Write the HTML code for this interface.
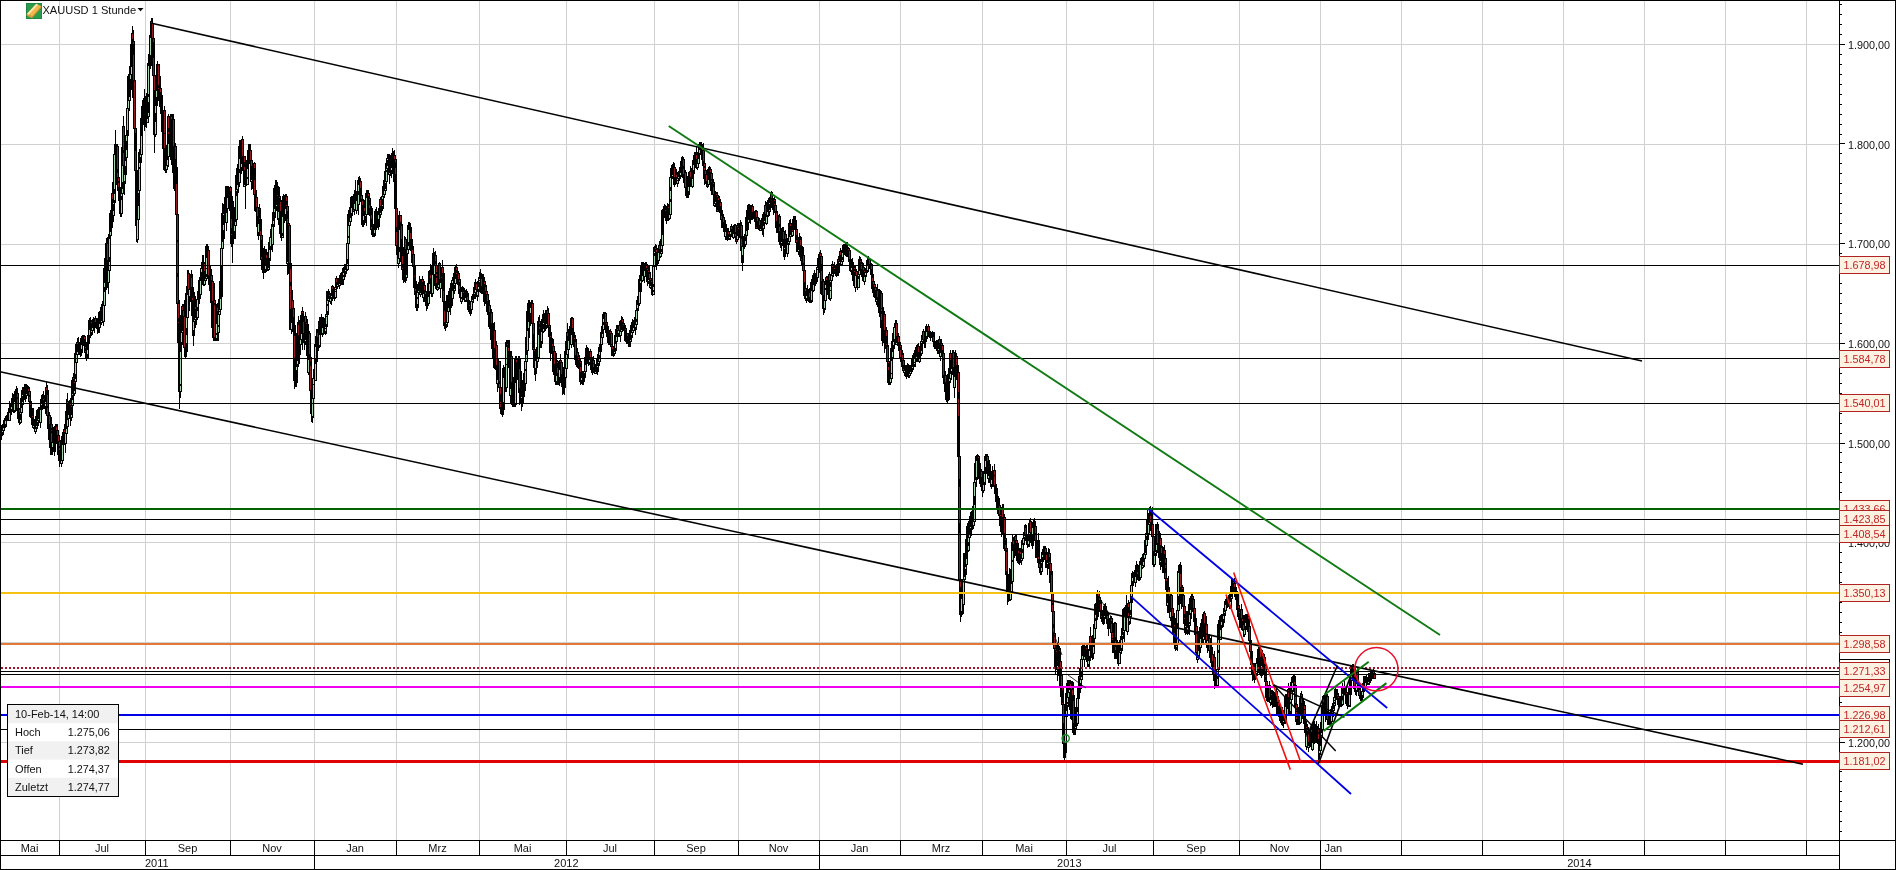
<!DOCTYPE html>
<html><head><meta charset="utf-8"><title>XAUUSD 1 Stunde</title>
<style>
html,body{margin:0;padding:0;background:#fff;overflow:hidden}
body{width:1896px;height:870px;font-family:"Liberation Sans",sans-serif}
svg{display:block;will-change:transform;opacity:0.999}
</style></head><body>
<svg width="1896" height="870" viewBox="0 0 1896 870">
<rect width="1896" height="870" fill="#fff"/>
<path d="M59.5 1V840M145.5 1V840M230.5 1V840M314.5 1V840M396.5 1V840M479.5 1V840M566.5 1V840M654.5 1V840M738.5 1V840M819.5 1V840M900.5 1V840M982.5 1V840M1066.5 1V840M1153.5 1V840M1239.5 1V840M1320.5 1V840M1401.5 1V840M1482.5 1V840M1563.5 1V840M1644.5 1V840M1725.5 1V840M1806.5 1V840M1 44.5H1839M1 144.5H1839M1 244.5H1839M1 343.5H1839M1 443.5H1839M1 542.5H1839M1 642.5H1839M1 742.5H1839" stroke="#d0d0d0" stroke-width="1" fill="none" shape-rendering="crispEdges"/>
<path d="M0.5 430V432M0.5 436V437M0.5 439V442M1.5 425V440M2.5 424V431M2.5 432V436M3.5 420V428M3.5 430V435M4.5 418V431M5.5 416V421M5.5 424V428M6.5 415V427M7.5 412V421M8.5 408V421M9.5 401V413M9.5 420V421M10.5 404V421M11.5 398V407M11.5 409V415M12.5 393V412M13.5 394V413M14.5 391V402M14.5 410V413M15.5 389V412M16.5 386V411M17.5 388V394M17.5 397V399M17.5 408V419M18.5 393V423M19.5 408V410M19.5 412V425M20.5 398V413M20.5 414V420M20.5 422V424M21.5 390V408M21.5 412V423M22.5 387V395M22.5 396V402M22.5 404V413M23.5 387V405M24.5 384V400M25.5 384V402M26.5 384V394M26.5 395V399M27.5 385V396M28.5 386V389M28.5 391V402M29.5 387V392M29.5 395V397M29.5 401V417M30.5 391V404M30.5 405V418M31.5 401V425M32.5 408V416M32.5 417V428M33.5 408V426M33.5 427V429M34.5 419V432M35.5 416V429M35.5 431V434M36.5 410V426M36.5 427V432M37.5 409V421M37.5 422V429M38.5 407V419M38.5 420V426M39.5 407V423M40.5 399V410M40.5 422V428M41.5 395V403M41.5 405V423M42.5 394V410M43.5 391V399M43.5 400V409M44.5 395V409M45.5 387V402M45.5 406V414M46.5 382V388M46.5 390V416M47.5 385V395M47.5 406V408M47.5 415V429M48.5 390V440M49.5 412V416M49.5 424V448M50.5 415V455M51.5 417V425M51.5 428V430M51.5 431V433M51.5 442V455M52.5 424V443M52.5 447V455M53.5 427V452M54.5 426V456M55.5 424V452M56.5 424V427M56.5 430V444M57.5 424V431M57.5 435V455M58.5 430V436M58.5 441V461M59.5 435V442M59.5 446V448M59.5 450V467M60.5 440V464M61.5 436V461M61.5 463V467M62.5 432V445M62.5 460V464M63.5 429V461M64.5 424V430M64.5 432V445M65.5 411V434M65.5 443V453M66.5 399V429M66.5 433V444M67.5 393V402M67.5 404V420M67.5 426V434M68.5 401V415M68.5 418V427M69.5 400V419M70.5 398V403M70.5 405V426M71.5 380V406M71.5 407V415M71.5 417V421M72.5 377V394M72.5 395V400M72.5 405V418M73.5 373V378M73.5 379V406M74.5 353V382M74.5 383V391M74.5 393V396M75.5 344V363M75.5 374V379M75.5 381V394M76.5 342V355M76.5 362V382M77.5 338V343M77.5 344V352M77.5 354V363M78.5 337V355M79.5 342V355M80.5 338V357M81.5 336V345M81.5 349V356M82.5 335V353M83.5 335V346M84.5 335V337M84.5 339V353M85.5 336V347M85.5 348V351M85.5 352V358M86.5 342V361M87.5 335V350M87.5 354V359M88.5 320V358M89.5 318V330M89.5 335V344M90.5 317V338M91.5 320V322M91.5 323V331M91.5 332V336M92.5 319V328M92.5 330V335M93.5 317V331M94.5 318V333M95.5 316V319M95.5 322V328M96.5 318V329M97.5 318V334M98.5 312V333M99.5 311V324M99.5 327V333M100.5 307V328M101.5 304V321M101.5 322V325M102.5 301V323M103.5 268V306M103.5 321V326M104.5 258V283M104.5 287V292M104.5 305V322M105.5 243V306M106.5 238V290M107.5 237V244M107.5 260V288M108.5 234V271M108.5 282V294M109.5 213V239M109.5 257V262M109.5 270V283M110.5 210V232M110.5 235V271M111.5 193V236M112.5 182V194M112.5 199V228M113.5 154V203M113.5 204V211M113.5 215V222M114.5 144V155M114.5 189V194M114.5 200V216M115.5 130V203M116.5 144V185M117.5 144V147M117.5 169V173M117.5 177V191M118.5 146V178M118.5 181V183M118.5 187V201M119.5 177V214M120.5 187V217M121.5 147V194M121.5 196V200M121.5 213V217M122.5 126V166M122.5 182V189M122.5 193V214M123.5 116V127M123.5 150V153M123.5 165V194M124.5 126V175M124.5 181V195M125.5 135V161M125.5 166V184M126.5 108V136M126.5 141V150M126.5 157V175M127.5 76V109M127.5 130V158M128.5 74V101M128.5 108V136M129.5 66V97M129.5 100V111M130.5 44V75M130.5 79V101M131.5 33V67M131.5 74V90M132.5 26V34M132.5 39V98M133.5 30V42M133.5 44V55M133.5 80V129M134.5 41V81M134.5 128V171M135.5 80V129M135.5 133V151M135.5 170V226M136.5 128V242M137.5 170V220M137.5 239V243M138.5 152V191M138.5 193V206M138.5 219V240M139.5 149V163M139.5 167V169M139.5 190V220M140.5 118V155M140.5 157V191M141.5 106V136M141.5 154V163M142.5 100V155M143.5 98V125M144.5 89V131M145.5 96V127M146.5 93V128M147.5 63V119M147.5 122V123M148.5 54V66M148.5 94V97M148.5 102V113M148.5 116V123M149.5 35V117M150.5 21V38M150.5 55V69M151.5 18V22M151.5 23V66M152.5 18V24M152.5 38V76M153.5 23V39M153.5 42V58M153.5 75V135M154.5 38V76M154.5 90V153M155.5 75V106M155.5 113V122M155.5 134V137M156.5 64V91M156.5 97V135M157.5 61V106M158.5 64V65M158.5 85V88M158.5 89V101M159.5 64V107M160.5 76V89M160.5 92V114M161.5 88V132M162.5 95V149M163.5 110V170M164.5 106V111M164.5 133V134M164.5 148V171M165.5 110V173M166.5 145V166M166.5 169V173M167.5 116V160M167.5 165V170M168.5 114V117M168.5 128V132M168.5 134V144M168.5 156V167M169.5 116V157M170.5 114V160M171.5 114V117M171.5 119V165M172.5 114V173M173.5 114V120M173.5 146V189M174.5 119V191M175.5 143V147M175.5 159V215M176.5 146V184M176.5 214V304M177.5 167V215M177.5 240V242M177.5 273V277M177.5 303V343M178.5 214V304M178.5 318V322M178.5 323V392M179.5 300V409M180.5 315V352M180.5 384V386M180.5 391V398M181.5 306V333M181.5 342V392M182.5 304V307M182.5 310V331M182.5 332V345M183.5 304V311M183.5 316V348M184.5 300V317M184.5 347V357M185.5 293V359M186.5 286V318M186.5 328V335M186.5 343V357M187.5 270V295M187.5 317V352M188.5 270V274M188.5 289V318M189.5 273V290M189.5 296V311M190.5 274V302M191.5 270V278M191.5 287V316M192.5 274V298M192.5 300V336M193.5 287V322M193.5 330V346M194.5 292V320M194.5 321V336M195.5 296V307M195.5 309V318M195.5 319V328M196.5 299V325M197.5 291V300M197.5 307V311M197.5 317V320M198.5 280V318M199.5 277V304M200.5 268V281M200.5 294V299M201.5 262V269M201.5 272V295M202.5 255V285M203.5 255V286M204.5 262V264M204.5 271V281M204.5 284V286M205.5 246V279M205.5 280V285M206.5 244V258M206.5 268V269M206.5 274V277M206.5 278V281M207.5 244V279M208.5 246V251M208.5 275V285M209.5 250V291M210.5 266V303M211.5 269V276M211.5 280V328M212.5 275V282M212.5 301V338M213.5 281V341M214.5 283V301M214.5 303V305M214.5 337V341M215.5 300V341M216.5 304V324M216.5 333V335M216.5 338V341M217.5 303V308M217.5 311V341M218.5 299V315M218.5 325V327M218.5 332V341M219.5 281V310M219.5 311V312M219.5 314V333M220.5 248V299M220.5 309V315M221.5 213V249M221.5 266V310M222.5 203V242M222.5 248V297M223.5 204V214M223.5 215V225M223.5 230V249M224.5 197V239M225.5 186V223M226.5 186V213M226.5 222V231M227.5 186V198M227.5 208V223M228.5 186V209M229.5 187V211M230.5 186V188M230.5 191V244M231.5 187V219M231.5 228V234M231.5 235V247M232.5 196V263M233.5 201V244M234.5 207V226M234.5 231V239M235.5 175V222M235.5 225V239M236.5 168V190M236.5 191V196M236.5 219V226M237.5 164V185M237.5 189V220M238.5 146V193M239.5 140V159M239.5 169V173M239.5 182V187M240.5 140V183M241.5 139V164M241.5 167V174M242.5 136V140M242.5 156V171M243.5 139V187M244.5 156V157M244.5 162V167M244.5 170V185M244.5 186V187M245.5 156V209M246.5 160V186M247.5 150V169M247.5 177V179M247.5 184V185M248.5 144V185M249.5 144V164M250.5 144V151M250.5 160V182M251.5 150V161M251.5 166V180M251.5 181V190M252.5 160V189M253.5 163V195M254.5 162V164M254.5 168V180M254.5 194V211M255.5 163V212M256.5 190V198M256.5 207V227M257.5 197V208M257.5 216V236M258.5 207V224M258.5 232V240M259.5 204V209M259.5 210V218M259.5 219V236M260.5 208V231M260.5 235V260M261.5 219V236M261.5 240V257M261.5 259V270M262.5 235V273M263.5 248V279M264.5 246V273M265.5 249V266M265.5 269V273M266.5 249V255M266.5 258V272M267.5 252V271M268.5 242V268M268.5 269V271M269.5 237V250M269.5 258V270M270.5 229V238M270.5 246V261M271.5 224V250M272.5 212V227M272.5 244V252M273.5 188V221M273.5 224V245M274.5 185V209M274.5 212V227M275.5 180V218M276.5 180V205M276.5 206V211M277.5 182V195M277.5 196V220M278.5 186V212M278.5 218V225M279.5 187V197M279.5 198V234M280.5 196V202M280.5 211V238M281.5 200V241M282.5 196V217M282.5 233V236M282.5 237V238M283.5 194V238M284.5 195V223M285.5 194V209M285.5 214V221M286.5 194V197M286.5 201V205M286.5 206V264M287.5 196V207M287.5 211V219M287.5 223V262M287.5 263V275M288.5 206V224M288.5 225V274M289.5 223V226M289.5 263V330M290.5 225V269M290.5 282V286M290.5 309V330M291.5 263V323M291.5 329V334M292.5 290V301M292.5 308V332M293.5 300V309M293.5 317V381M294.5 308V336M294.5 358V389M295.5 325V387M296.5 333V367M296.5 370V387M297.5 322V361M297.5 364V383M298.5 316V325M298.5 335V367M299.5 320V364M300.5 315V340M300.5 344V355M301.5 311V334M301.5 339V345M302.5 307V312M302.5 313V350M303.5 311V322M303.5 333V343M304.5 316V350M305.5 312V317M305.5 322V340M305.5 341V345M306.5 316V323M306.5 324V356M307.5 319V373M308.5 324V360M308.5 372V375M309.5 331V334M309.5 354V391M310.5 333V358M310.5 361V366M310.5 390V414M311.5 357V422M312.5 378V399M312.5 416V423M313.5 369V379M313.5 384V385M313.5 398V418M314.5 344V399M315.5 336V347M315.5 359V364M315.5 380V381M316.5 329V381M317.5 329V333M317.5 337V362M318.5 321V351M319.5 317V335M319.5 345V348M320.5 317V347M321.5 314V335M322.5 317V328M322.5 333V337M323.5 317V335M324.5 318V334M325.5 314V327M325.5 328V329M325.5 331V335M326.5 291V315M326.5 316V317M326.5 324V334M327.5 291V301M327.5 304V306M327.5 311V327M328.5 289V299M328.5 300V315M329.5 291V295M329.5 296V302M330.5 293V299M330.5 301V304M331.5 286V296M331.5 297V305M332.5 285V287M332.5 289V301M333.5 286V299M334.5 287V301M335.5 278V288M335.5 289V290M335.5 291V292M335.5 297V299M336.5 276V279M336.5 282V298M337.5 278V285M337.5 286V289M338.5 278V287M339.5 275V284M339.5 285V289M340.5 273V286M341.5 272V285M342.5 268V285M343.5 267V273M343.5 275V277M343.5 279V285M344.5 264V280M345.5 264V270M345.5 271V277M346.5 243V274M347.5 214V244M347.5 259V264M347.5 269V271M348.5 210V226M348.5 236V238M348.5 243V270M349.5 207V222M349.5 225V244M350.5 197V218M350.5 221V226M351.5 196V208M351.5 213V222M352.5 196V216M353.5 194V210M353.5 211V212M354.5 190V204M354.5 209V215M355.5 180V211M356.5 191V201M356.5 210V214M357.5 180V211M358.5 177V185M358.5 191V195M358.5 204V215M359.5 176V205M360.5 178V182M360.5 188V202M361.5 181V196M361.5 199V225M362.5 195V201M362.5 205V227M363.5 199V216M363.5 220V227M364.5 200V208M364.5 211V225M365.5 193V215M365.5 216V223M366.5 190V198M366.5 214V226M367.5 190V215M368.5 190V194M368.5 196V215M369.5 193V199M369.5 200V205M369.5 208V216M370.5 198V230M371.5 206V215M371.5 219V227M371.5 229V235M372.5 208V237M373.5 224V237M374.5 211V230M374.5 233V237M375.5 209V236M376.5 207V230M377.5 211V228M378.5 208V215M378.5 219V230M379.5 199V227M380.5 197V200M380.5 206V213M380.5 214V218M381.5 196V215M382.5 186V197M382.5 199V205M382.5 206V211M383.5 180V195M383.5 196V209M384.5 171V191M384.5 194V198M385.5 163V182M385.5 183V189M385.5 190V195M386.5 158V169M386.5 170V172M386.5 181V191M387.5 154V159M387.5 160V166M387.5 168V182M388.5 154V175M389.5 154V173M389.5 174V184M390.5 155V176M391.5 153V168M391.5 170V178M392.5 148V174M393.5 151V182M394.5 150V156M394.5 159V209M395.5 155V160M395.5 162V168M395.5 174V246M396.5 159V209M396.5 227V232M396.5 245V255M397.5 208V264M398.5 215V259M398.5 263V268M399.5 211V230M399.5 247V252M399.5 258V264M400.5 215V216M400.5 222V262M401.5 215V226M401.5 239V270M402.5 224V256M402.5 264V268M402.5 269V280M403.5 247V283M404.5 236V282M405.5 237V240M405.5 249V283M406.5 239V275M406.5 277V281M407.5 225V250M407.5 253V278M408.5 222V230M408.5 242V246M408.5 249V254M409.5 222V250M410.5 223V233M410.5 239V251M411.5 227V263M412.5 239V250M412.5 254V267M413.5 246V255M413.5 266V288M414.5 254V276M414.5 277V295M415.5 266V289M415.5 291V308M416.5 281V311M417.5 284V293M417.5 297V299M417.5 304V311M418.5 282V291M418.5 292V308M419.5 276V295M420.5 279V293M420.5 294V297M421.5 279V295M422.5 276V280M422.5 282V298M423.5 279V294M423.5 297V302M424.5 281V286M424.5 290V302M425.5 285V292M425.5 294V306M426.5 291V311M427.5 283V309M428.5 271V297M428.5 303V306M429.5 270V284M429.5 291V304M430.5 264V275M430.5 278V294M431.5 265V297M432.5 253V275M432.5 293V297M433.5 248V294M434.5 252V266M434.5 274V286M435.5 251V256M435.5 261V264M435.5 265V289M436.5 255V266M436.5 272V274M436.5 276V278M436.5 283V290M437.5 265V288M437.5 289V291M438.5 263V285M438.5 287V290M439.5 262V264M439.5 279V289M440.5 263V283M440.5 288V298M441.5 267V277M441.5 278V289M442.5 260V268M442.5 273V302M443.5 267V291M443.5 301V326M444.5 273V311M444.5 322V329M445.5 301V331M446.5 295V323M446.5 324V328M447.5 295V312M447.5 322V327M448.5 291V308M448.5 311V323M449.5 288V312M450.5 283V315M451.5 280V308M452.5 277V281M452.5 283V291M452.5 298V306M453.5 273V299M454.5 267V284M454.5 285V289M454.5 290V294M455.5 265V279M455.5 283V291M456.5 264V268M456.5 270V273M456.5 274V284M457.5 267V285M458.5 271V274M458.5 279V294M459.5 273V280M459.5 282V286M459.5 289V298M460.5 279V302M461.5 287V292M461.5 297V299M461.5 301V304M462.5 286V302M463.5 287V292M463.5 293V300M464.5 288V302M465.5 290V298M465.5 300V302M466.5 289V302M467.5 291V297M467.5 300V310M468.5 293V312M469.5 300V305M469.5 306V314M470.5 301V316M471.5 296V302M471.5 309V314M472.5 294V300M472.5 301V310M473.5 287V303M474.5 282V293M474.5 294V299M475.5 279V290M475.5 292V299M476.5 282V284M476.5 289V297M477.5 281V292M477.5 295V301M478.5 277V287M478.5 289V297M479.5 272V279M479.5 280V281M479.5 282V292M480.5 269V293M481.5 273V279M481.5 286V294M482.5 274V294M483.5 274V302M484.5 277V282M484.5 284V306M485.5 281V287M485.5 291V304M486.5 285V292M486.5 294V312M487.5 291V295M487.5 301V315M488.5 294V327M489.5 300V306M489.5 312V329M490.5 305V340M491.5 309V313M491.5 323V349M492.5 312V359M493.5 323V368M494.5 322V331M494.5 348V369M495.5 330V370M496.5 341V346M496.5 365V384M497.5 345V380M497.5 383V392M498.5 358V388M499.5 361V362M499.5 381V384M499.5 387V409M500.5 361V388M500.5 394V402M500.5 407V414M501.5 387V415M502.5 368V417M503.5 365V378M503.5 402V415M504.5 367V410M505.5 342V392M506.5 340V347M506.5 364V365M506.5 387V392M507.5 340V344M507.5 345V388M508.5 340V348M508.5 351V368M509.5 340V396M510.5 351V389M510.5 395V403M511.5 351V357M511.5 382V405M512.5 356V407M513.5 377V407M514.5 359V407M515.5 356V383M515.5 404V407M516.5 356V360M516.5 362V405M517.5 358V380M518.5 356V393M519.5 356V369M519.5 388V405M520.5 359V404M521.5 371V397M521.5 398V411M522.5 380V407M523.5 373V403M524.5 361V397M525.5 337V362M525.5 369V371M525.5 383V391M526.5 311V355M526.5 361V384M527.5 303V331M527.5 350V362M528.5 300V322M528.5 328V351M529.5 300V338M530.5 302V308M530.5 313V326M531.5 300V324M532.5 300V304M532.5 323V350M533.5 303V324M533.5 334V348M533.5 349V368M534.5 323V350M534.5 351V375M535.5 349V361M535.5 368V381M536.5 347V374M537.5 321V358M537.5 361V368M538.5 317V335M538.5 357V362M539.5 315V322M539.5 324V327M539.5 329V358M540.5 321V348M541.5 319V332M541.5 341V348M542.5 314V344M543.5 310V323M543.5 324V329M543.5 331V333M544.5 313V332M545.5 310V331M546.5 310V324M546.5 325V329M547.5 306V311M547.5 313V328M548.5 308V314M548.5 325V337M549.5 313V326M549.5 327V353M550.5 325V336M550.5 337V361M551.5 332V354M552.5 338V344M552.5 346V372M553.5 339V347M553.5 351V375M554.5 346V352M554.5 364V382M555.5 351V385M556.5 353V376M556.5 381V385M557.5 360V362M557.5 363V368M557.5 373V385M558.5 361V385M559.5 360V370M559.5 377V386M560.5 354V361M560.5 362V383M561.5 360V363M561.5 374V387M562.5 362V395M563.5 367V394M564.5 351V395M565.5 341V369M565.5 377V388M566.5 332V355M566.5 368V378M567.5 323V333M567.5 336V350M567.5 354V369M568.5 329V341M568.5 349V359M569.5 326V350M570.5 318V345M571.5 317V335M571.5 344V348M572.5 317V319M572.5 328V345M573.5 318V347M574.5 332V338M574.5 339V360M575.5 335V342M575.5 355V365M576.5 339V367M577.5 348V353M577.5 356V368M578.5 352V357M578.5 360V369M579.5 355V382M580.5 358V362M580.5 363V367M580.5 372V385M581.5 361V378M581.5 380V384M582.5 371V385M583.5 371V385M584.5 357V372M584.5 373V382M585.5 348V358M585.5 359V365M585.5 371V378M586.5 345V372M587.5 347V364M588.5 348V366M589.5 351V360M589.5 362V365M590.5 349V352M590.5 357V370M591.5 351V373M592.5 357V375M593.5 356V361M593.5 363V364M593.5 367V373M594.5 360V374M595.5 364V372M595.5 373V374M596.5 358V374M597.5 354V366M597.5 367V375M598.5 347V362M598.5 363V372M599.5 344V352M599.5 355V358M599.5 361V366M600.5 332V362M601.5 326V338M601.5 344V352M602.5 314V334M602.5 337V345M603.5 312V319M603.5 322V325M603.5 329V338M604.5 312V330M605.5 312V314M605.5 322V333M606.5 313V323M606.5 324V337M607.5 322V343M608.5 326V345M609.5 330V345M610.5 329V332M610.5 333V347M611.5 331V334M611.5 344V345M611.5 346V356M612.5 333V347M612.5 349V356M613.5 346V357M614.5 335V352M614.5 353V356M615.5 329V344M615.5 348V354M616.5 325V337M616.5 341V351M617.5 325V329M617.5 330V342M618.5 325V331M618.5 333V337M619.5 321V326M619.5 330V337M620.5 320V332M620.5 335V342M621.5 316V330M621.5 331V336M622.5 317V320M622.5 322V332M623.5 319V324M623.5 325V331M624.5 323V341M625.5 325V329M625.5 330V342M626.5 328V344M627.5 333V334M627.5 336V344M628.5 333V347M629.5 330V347M630.5 325V340M630.5 341V347M631.5 322V333M631.5 335V342M632.5 319V331M632.5 332V338M633.5 320V328M633.5 330V333M634.5 317V331M635.5 310V325M635.5 327V335M636.5 300V311M636.5 319V322M636.5 324V330M637.5 296V305M637.5 308V325M638.5 279V311M639.5 275V292M639.5 303V306M640.5 266V281M640.5 283V304M641.5 262V292M642.5 262V276M642.5 280V282M643.5 262V281M644.5 263V271M644.5 276V283M645.5 262V277M646.5 262V265M646.5 268V282M647.5 264V269M647.5 270V286M648.5 266V271M648.5 272V280M648.5 281V284M649.5 266V274M649.5 278V288M650.5 272V279M650.5 280V286M650.5 287V289M651.5 278V281M651.5 282V295M652.5 266V296M653.5 247V267M653.5 284V287M653.5 290V292M653.5 294V295M654.5 246V252M654.5 253V256M654.5 266V295M655.5 244V248M655.5 249V267M656.5 245V250M656.5 252V270M657.5 248V266M658.5 245V253M658.5 260V264M659.5 241V246M659.5 249V261M660.5 239V254M660.5 256V258M661.5 210V246M661.5 249V252M661.5 253V257M662.5 209V235M662.5 245V254M663.5 206V246M664.5 204V218M665.5 205V210M665.5 211V221M666.5 206V224M667.5 203V221M668.5 204V207M668.5 208V221M669.5 177V215M669.5 218V220M670.5 168V178M670.5 187V191M670.5 199V202M670.5 214V219M671.5 165V215M672.5 164V175M672.5 176V179M673.5 162V185M674.5 163V168M674.5 177V187M675.5 167V185M676.5 169V175M676.5 177V184M677.5 172V179M677.5 180V181M677.5 183V187M678.5 171V177M678.5 178V184M679.5 167V181M680.5 161V173M680.5 175V179M681.5 157V177M682.5 156V178M683.5 157V160M683.5 166V169M683.5 174V183M684.5 159V188M685.5 170V173M685.5 187V196M686.5 172V198M687.5 176V198M688.5 172V187M688.5 191V198M689.5 171V195M690.5 166V172M690.5 177V187M691.5 168V187M692.5 160V179M692.5 186V188M693.5 155V165M693.5 170V187M694.5 152V174M695.5 152V168M696.5 147V155M696.5 159V169M697.5 152V164M697.5 167V170M698.5 144V159M698.5 163V168M699.5 142V150M699.5 153V164M700.5 142V155M701.5 142V160M702.5 144V149M702.5 150V166M703.5 143V151M703.5 161V179M704.5 150V164M704.5 166V168M704.5 170V185M705.5 163V171M705.5 174V184M706.5 170V175M706.5 181V187M707.5 169V185M707.5 186V188M708.5 167V180M708.5 184V187M709.5 166V185M710.5 167V170M710.5 172V191M711.5 169V174M711.5 179V181M711.5 182V195M712.5 173V195M713.5 179V183M713.5 184V187M713.5 194V206M714.5 182V204M714.5 205V207M715.5 191V202M715.5 203V207M716.5 192V194M716.5 195V212M717.5 192V196M717.5 197V210M717.5 211V212M718.5 195V198M718.5 200V212M719.5 196V213M720.5 199V203M720.5 206V220M721.5 202V216M721.5 219V228M722.5 210V228M723.5 214V218M723.5 222V232M724.5 217V237M725.5 220V232M725.5 236V240M726.5 224V240M727.5 228V241M728.5 228V232M728.5 234V240M729.5 231V237M729.5 238V240M730.5 226V232M730.5 234V240M731.5 224V227M731.5 229V237M732.5 226V238M733.5 225V234M733.5 237V239M734.5 224V238M735.5 224V226M735.5 232V234M735.5 236V242M736.5 225V240M736.5 241V244M737.5 223V226M737.5 227V236M737.5 239V242M738.5 223V228M738.5 229V240M739.5 223V238M740.5 220V251M741.5 222V226M741.5 236V239M741.5 246V263M742.5 225V247M742.5 255V271M743.5 236V263M744.5 234V249M745.5 217V236M745.5 237V241M745.5 244V247M746.5 210V231M746.5 235V245M747.5 205V236M748.5 204V220M748.5 222V230M749.5 204V223M750.5 205V224M751.5 205V220M752.5 204V207M752.5 212V220M753.5 206V219M754.5 211V222M755.5 210V229M756.5 210V212M756.5 217V227M756.5 228V229M757.5 211V218M757.5 221V229M758.5 217V230M759.5 218V221M759.5 225V231M760.5 220V229M760.5 230V231M761.5 218V231M762.5 214V235M763.5 212V226M763.5 228V237M764.5 205V221M764.5 222V229M765.5 201V206M765.5 214V224M766.5 202V217M766.5 223V225M767.5 200V212M767.5 215V224M768.5 198V217M769.5 197V203M769.5 204V210M769.5 211V216M770.5 192V212M771.5 191V193M771.5 198V208M772.5 192V210M773.5 198V215M774.5 197V200M774.5 201V204M774.5 205V213M775.5 199V206M775.5 211V228M776.5 205V213M776.5 221V233M777.5 211V233M778.5 215V242M779.5 214V217M779.5 224V227M779.5 231V245M780.5 216V248M781.5 228V242M781.5 243V251M782.5 227V246M783.5 227V232M783.5 239V257M784.5 231V248M784.5 249V260M785.5 230V235M785.5 239V257M786.5 234V254M787.5 238V245M787.5 253V257M788.5 223V242M788.5 243V254M789.5 220V237M789.5 241V245M790.5 219V224M790.5 226V235M790.5 236V242M791.5 223V237M792.5 219V230M792.5 231V232M792.5 235V237M793.5 216V236M794.5 216V230M795.5 216V243M796.5 220V230M796.5 235V240M796.5 242V252M797.5 229V252M798.5 237V250M798.5 251V255M799.5 233V257M800.5 236V240M800.5 245V261M801.5 237V259M801.5 260V266M802.5 246V271M803.5 247V256M803.5 263V266M803.5 270V296M804.5 255V271M804.5 282V299M805.5 270V289M805.5 291V301M806.5 288V296M806.5 298V303M807.5 285V301M808.5 289V302M809.5 288V293M809.5 297V303M810.5 282V303M811.5 279V291M811.5 300V303M812.5 275V302M813.5 273V285M813.5 290V292M814.5 270V291M815.5 273V286M816.5 267V284M817.5 258V268M817.5 269V270M817.5 277V282M818.5 254V278M819.5 252V273M820.5 250V254M820.5 256V294M821.5 253V257M821.5 264V271M821.5 281V295M822.5 256V309M823.5 279V282M823.5 295V315M824.5 281V301M824.5 308V313M825.5 277V285M825.5 288V290M825.5 300V310M826.5 276V278M826.5 280V301M827.5 276V295M828.5 274V299M829.5 272V275M829.5 280V300M830.5 274V281M830.5 282V287M830.5 290V291M830.5 298V301M831.5 264V276M831.5 280V299M832.5 261V265M832.5 267V274M832.5 275V281M833.5 264V277M834.5 262V268M834.5 269V274M835.5 265V276M836.5 264V277M837.5 259V276M838.5 256V260M838.5 261V276M839.5 251V262M839.5 263V273M840.5 248V252M840.5 255V265M841.5 250V262M841.5 264V265M842.5 245V253M842.5 257V260M842.5 261V265M843.5 244V262M844.5 244V255M845.5 243V256M846.5 242V257M847.5 242V257M848.5 247V249M848.5 250V262M849.5 248V251M849.5 259V271M850.5 250V272M851.5 259V268M851.5 270V275M852.5 258V281M853.5 262V286M854.5 265V268M854.5 269V271M854.5 272V288M855.5 265V276M855.5 287V292M856.5 269V272M856.5 275V288M857.5 271V290M858.5 259V275M858.5 276V279M858.5 287V288M859.5 256V271M859.5 274V288M860.5 257V261M860.5 262V275M861.5 259V264M861.5 269V277M862.5 262V281M863.5 263V268M863.5 270V282M864.5 267V271M864.5 272V277M864.5 281V285M865.5 268V273M865.5 275V282M866.5 260V277M867.5 258V265M867.5 270V273M868.5 256V272M869.5 259V260M869.5 264V269M870.5 259V275M871.5 263V265M871.5 269V289M872.5 264V278M872.5 281V293M873.5 274V282M873.5 284V297M874.5 281V285M874.5 287V298M875.5 284V288M875.5 290V302M876.5 287V300M876.5 301V305M877.5 284V291M877.5 297V307M878.5 289V313M879.5 289V317M880.5 290V328M881.5 291V294M881.5 308V309M881.5 311V314M881.5 320V341M882.5 293V346M883.5 307V343M884.5 311V315M884.5 330V353M885.5 314V349M886.5 327V331M886.5 336V344M886.5 345V362M887.5 330V347M887.5 361V383M888.5 345V362M888.5 363V367M888.5 370V385M889.5 361V385M890.5 348V379M890.5 382V385M891.5 341V361M891.5 373V374M891.5 378V383M892.5 333V352M892.5 357V379M893.5 327V342M893.5 345V358M894.5 323V328M894.5 339V349M895.5 320V345M896.5 320V324M896.5 336V343M896.5 344V345M897.5 323V346M898.5 333V337M898.5 342V351M899.5 336V358M900.5 342V346M900.5 347V350M900.5 357V362M901.5 345V367M902.5 350V355M902.5 360V371M903.5 353V361M903.5 365V369M903.5 370V373M904.5 360V371M904.5 372V376M905.5 365V377M906.5 365V379M907.5 363V377M908.5 364V378M909.5 365V374M909.5 375V378M910.5 365V372M910.5 373V376M911.5 358V374M912.5 355V367M912.5 368V372M913.5 353V370M914.5 350V358M914.5 362V363M914.5 364V367M915.5 347V367M916.5 345V357M916.5 358V362M917.5 344V362M918.5 343V347M918.5 352V362M919.5 346V359M919.5 361V363M920.5 341V362M921.5 335V342M921.5 343V351M921.5 353V356M922.5 331V340M922.5 341V354M923.5 329V332M923.5 339V344M924.5 331V348M925.5 326V348M926.5 324V332M926.5 336V342M927.5 326V339M928.5 324V327M928.5 331V337M929.5 326V338M930.5 331V341M931.5 332V338M932.5 331V342M933.5 332V337M933.5 341V347M934.5 332V349M935.5 341V349M936.5 340V351M937.5 340V354M938.5 339V349M938.5 350V354M939.5 336V340M939.5 343V357M940.5 339V353M940.5 356V361M941.5 339V344M941.5 345V357M942.5 343V346M942.5 350V378M943.5 345V354M943.5 358V360M943.5 375V384M944.5 353V392M945.5 371V376M945.5 382V400M946.5 375V402M947.5 374V403M948.5 368V401M949.5 353V379M949.5 381V400M950.5 350V354M950.5 360V374M950.5 378V383M951.5 353V369M951.5 371V380M952.5 350V375M953.5 350V353M953.5 367V388M954.5 352V377M954.5 387V398M955.5 350V388M956.5 353V357M956.5 365V380M957.5 356V457M958.5 365V373M958.5 392V399M958.5 416V580M959.5 372V457M959.5 479V487M959.5 523V533M959.5 579V615M960.5 456V580M960.5 587V622M961.5 579V599M961.5 611V617M962.5 579V615M963.5 553V580M963.5 604V614M964.5 553V577M964.5 579V605M965.5 539V567M965.5 569V580M966.5 526V559M966.5 564V575M967.5 523V565M968.5 521V538M968.5 542V546M968.5 550V552M969.5 516V535M969.5 537V551M970.5 512V527M970.5 528V538M971.5 511V536M972.5 506V530M973.5 482V522M973.5 525V529M974.5 463V483M974.5 496V505M974.5 521V526M975.5 456V480M975.5 482V522M976.5 455V461M976.5 477V487M977.5 454V480M978.5 455V457M978.5 458V479M979.5 456V484M980.5 463V487M981.5 469V472M981.5 477V491M982.5 471V497M983.5 471V485M983.5 490V493M984.5 456V474M984.5 482V491M985.5 454V461M985.5 467V485M986.5 454V474M987.5 454V457M987.5 461V479M988.5 456V476M988.5 478V483M989.5 460V483M990.5 464V487M991.5 471V480M991.5 484V489M992.5 466V487M993.5 470V487M994.5 464V471M994.5 475V476M994.5 485V494M995.5 470V502M996.5 484V509M997.5 488V514M998.5 496V516M999.5 498V506M999.5 514V526M1000.5 505V515M1000.5 516V532M1001.5 507V537M1002.5 504V508M1002.5 517V534M1003.5 504V549M1004.5 514V518M1004.5 533V551M1005.5 517V539M1005.5 540V545M1005.5 548V575M1006.5 538V549M1006.5 550V552M1006.5 571V593M1007.5 548V605M1008.5 574V602M1009.5 568V601M1010.5 569V593M1010.5 599V601M1011.5 542V584M1011.5 592V600M1012.5 534V551M1012.5 560V562M1012.5 581V593M1013.5 537V541M1013.5 544V582M1014.5 536V558M1015.5 534V537M1015.5 540V556M1016.5 534V541M1016.5 543V561M1017.5 540V563M1018.5 543V551M1018.5 553V564M1019.5 548V565M1020.5 548V552M1020.5 554V563M1021.5 540V559M1021.5 560V565M1022.5 538V545M1022.5 549V553M1022.5 558V561M1023.5 532V539M1023.5 543V559M1024.5 525V536M1024.5 537V545M1025.5 524V528M1025.5 535V541M1026.5 525V545M1027.5 534V548M1028.5 523V541M1028.5 544V547M1029.5 520V533M1029.5 535V547M1030.5 518V522M1030.5 532V543M1031.5 521V546M1032.5 522V528M1032.5 534V549M1033.5 519V546M1034.5 518V541M1035.5 521V527M1035.5 533V535M1035.5 540V558M1036.5 526V558M1037.5 540V563M1038.5 533V557M1038.5 559V568M1039.5 540V564M1039.5 567V573M1040.5 559V575M1041.5 552V562M1041.5 563V568M1041.5 571V575M1042.5 549V555M1042.5 557V572M1043.5 546V562M1044.5 546V560M1045.5 546V549M1045.5 552V568M1046.5 548V555M1046.5 560V568M1047.5 552V563M1047.5 564V575M1048.5 548V569M1049.5 549V554M1049.5 557V562M1049.5 563V583M1050.5 553V564M1050.5 571V594M1051.5 563V575M1051.5 592V612M1052.5 571V593M1052.5 603V605M1052.5 611V644M1053.5 592V612M1053.5 624V628M1053.5 633V649M1054.5 611V634M1054.5 648V668M1055.5 633V649M1055.5 650V674M1056.5 644V651M1056.5 652V670M1057.5 644V666M1057.5 669V681M1058.5 637V676M1059.5 646V650M1059.5 651V687M1060.5 648V662M1060.5 668V697M1061.5 661V676M1061.5 686V705M1062.5 675V687M1062.5 690V703M1062.5 704V744M1063.5 686V705M1063.5 723V736M1063.5 743V758M1064.5 704V763M1065.5 693V717M1065.5 743V758M1066.5 683V711M1066.5 716V753M1067.5 680V698M1067.5 702V704M1067.5 705V717M1068.5 680V693M1068.5 697V707M1069.5 680V690M1069.5 692V710M1070.5 680V684M1070.5 686V719M1071.5 681V687M1071.5 689V720M1072.5 681V690M1072.5 695V733M1073.5 682V701M1073.5 723V735M1074.5 695V735M1075.5 707V727M1075.5 728V735M1076.5 698V729M1077.5 687V699M1077.5 707V712M1077.5 723V726M1078.5 676V724M1079.5 668V677M1079.5 678V699M1080.5 659V680M1080.5 683V693M1081.5 646V660M1081.5 671V677M1081.5 679V689M1082.5 644V656M1082.5 659V680M1083.5 644V660M1084.5 644V657M1084.5 659V667M1085.5 646V660M1086.5 644V648M1086.5 649V662M1087.5 644V667M1088.5 649V661M1088.5 664V667M1089.5 636V651M1089.5 656V667M1090.5 627V637M1090.5 645V661M1091.5 636V658M1092.5 635V660M1093.5 624V647M1093.5 653V659M1094.5 604V629M1094.5 638V654M1095.5 603V615M1095.5 618V621M1095.5 628V639M1096.5 593V629M1097.5 590V620M1098.5 592V594M1098.5 596V617M1099.5 591V598M1099.5 600V611M1100.5 597V604M1100.5 610V619M1101.5 600V611M1101.5 612V616M1101.5 617V622M1102.5 610V624M1103.5 606V625M1104.5 604V616M1104.5 617V624M1105.5 603V607M1105.5 608V619M1106.5 606V624M1107.5 611V616M1107.5 619V629M1108.5 613V636M1109.5 618V629M1110.5 616V633M1111.5 616V619M1111.5 621V624M1111.5 632V645M1112.5 618V633M1112.5 638V639M1112.5 640V653M1113.5 623V653M1114.5 622V659M1115.5 622V624M1115.5 637V641M1115.5 645V647M1115.5 650V659M1116.5 623V659M1117.5 640V664M1118.5 642V666M1119.5 640V653M1119.5 663V664M1120.5 636V651M1120.5 652V664M1121.5 628V640M1121.5 648V654M1122.5 609V635M1122.5 636V651M1123.5 608V631M1123.5 632V639M1124.5 607V616M1124.5 630V642M1125.5 605V631M1126.5 595V632M1127.5 603V618M1127.5 631V635M1128.5 600V604M1128.5 607V613M1128.5 616V632M1129.5 602V617M1129.5 621V625M1130.5 585V603M1130.5 610V615M1130.5 616V624M1131.5 573V586M1131.5 596V617M1132.5 571V578M1132.5 581V603M1133.5 572V586M1134.5 570V583M1135.5 565V577M1135.5 582V587M1136.5 561V583M1137.5 564V572M1137.5 574V580M1138.5 565V581M1139.5 561V581M1140.5 558V565M1140.5 577V580M1141.5 557V578M1142.5 554V566M1142.5 567V569M1143.5 553V562M1143.5 565V568M1144.5 540V555M1144.5 558V567M1145.5 533V553M1145.5 554V559M1146.5 519V534M1146.5 536V540M1146.5 545V555M1147.5 508V546M1148.5 513V525M1148.5 533V540M1149.5 507V523M1149.5 524V534M1150.5 506V510M1150.5 512V516M1150.5 522V531M1151.5 509V537M1152.5 507V525M1152.5 536V565M1153.5 524V537M1153.5 551V567M1154.5 536V556M1154.5 564V567M1155.5 524V552M1155.5 553V565M1156.5 524V545M1156.5 550V556M1157.5 522V529M1157.5 543V553M1158.5 524V558M1159.5 531V565M1160.5 533V539M1160.5 545V561M1160.5 562V570M1161.5 538V548M1161.5 553V567M1162.5 546V573M1163.5 547V573M1164.5 545V551M1164.5 554V579M1165.5 550V559M1165.5 563V565M1165.5 568V573M1165.5 578V590M1166.5 558V579M1166.5 581V606M1167.5 578V603M1167.5 605V613M1168.5 576V590M1168.5 593V613M1169.5 587V594M1169.5 596V618M1170.5 593V612M1170.5 617V621M1171.5 592V596M1171.5 608V628M1172.5 595V609M1172.5 616V635M1173.5 608V644M1174.5 613V625M1174.5 628V633M1174.5 634V649M1175.5 618V651M1176.5 610V646M1176.5 647V650M1177.5 571V611M1177.5 623V628M1177.5 643V651M1178.5 565V573M1178.5 596V605M1178.5 610V644M1179.5 564V611M1180.5 562V574M1180.5 587V604M1181.5 565V609M1182.5 585V588M1182.5 589V607M1183.5 587V596M1183.5 606V624M1184.5 595V607M1184.5 614V618M1184.5 619V633M1185.5 606V626M1185.5 627V635M1186.5 611V634M1187.5 611V628M1187.5 631V635M1188.5 604V634M1189.5 598V615M1189.5 622V624M1189.5 625V635M1190.5 596V610M1190.5 613V626M1191.5 594V619M1192.5 594V597M1192.5 598V612M1193.5 596V600M1193.5 608V622M1194.5 599V609M1194.5 614V635M1195.5 608V653M1196.5 618V627M1196.5 632V634M1196.5 652V660M1197.5 626V658M1197.5 659V663M1198.5 631V651M1198.5 655V660M1199.5 627V658M1200.5 623V639M1200.5 647V653M1201.5 619V648M1202.5 614V645M1203.5 612V637M1203.5 639V645M1204.5 611V614M1204.5 623V640M1205.5 613V643M1206.5 616V625M1206.5 640V648M1207.5 624V641M1207.5 645V653M1208.5 634V651M1209.5 634V639M1209.5 650V658M1210.5 638V663M1211.5 635V667M1212.5 647V655M1212.5 661V674M1213.5 654V681M1214.5 651V658M1214.5 674V689M1215.5 657V687M1216.5 669V687M1217.5 624V670M1217.5 676V679M1217.5 685V687M1218.5 620V640M1218.5 650V653M1218.5 669V686M1219.5 616V670M1220.5 615V630M1220.5 639V640M1221.5 614V622M1221.5 625V640M1222.5 614V628M1223.5 608V616M1223.5 619V627M1224.5 601V612M1224.5 613V623M1225.5 599V605M1225.5 610V616M1226.5 595V611M1227.5 597V608M1228.5 595V607M1229.5 594V609M1230.5 586V602M1230.5 605V609M1231.5 579V597M1231.5 598V608M1232.5 580V599M1233.5 581V582M1233.5 583V593M1234.5 578V584M1234.5 587V597M1235.5 583V600M1236.5 587V610M1237.5 591V617M1238.5 592V606M1238.5 608V620M1239.5 605V612M1239.5 613V628M1240.5 609V628M1241.5 604V610M1241.5 618V630M1242.5 609V619M1242.5 621V631M1243.5 615V625M1243.5 629V637M1244.5 615V630M1244.5 634V637M1245.5 614V623M1245.5 626V635M1246.5 614V630M1247.5 614V632M1248.5 614V617M1248.5 619V641M1249.5 616V627M1249.5 640V652M1250.5 626V645M1250.5 651V665M1251.5 640V675M1252.5 651V667M1252.5 670V681M1253.5 663V680M1254.5 663V683M1255.5 663V680M1256.5 658V664M1256.5 671V672M1256.5 673V674M1256.5 675V676M1257.5 649V676M1258.5 647V673M1259.5 647V674M1260.5 646V650M1260.5 657V676M1261.5 649V666M1261.5 668V678M1262.5 650V676M1263.5 653V674M1264.5 654V658M1264.5 664V682M1265.5 657V666M1265.5 672V676M1265.5 677V680M1265.5 681V698M1266.5 665V682M1266.5 686V701M1267.5 681V702M1268.5 685V702M1269.5 681V686M1269.5 697V703M1270.5 685V700M1270.5 702V706M1271.5 690V694M1271.5 695V705M1272.5 690V708M1273.5 691V707M1274.5 692V707M1275.5 691V707M1276.5 688V692M1276.5 696V716M1277.5 691V697M1277.5 702V716M1278.5 696V703M1278.5 706V717M1279.5 700V721M1280.5 704V723M1281.5 707V725M1282.5 707V711M1282.5 714V726M1283.5 710V721M1283.5 722V728M1284.5 696V724M1285.5 694V707M1285.5 716V724M1286.5 694V721M1287.5 689V709M1287.5 714V716M1288.5 683V690M1288.5 697V715M1289.5 687V715M1290.5 682V700M1290.5 711V714M1291.5 677V692M1291.5 699V714M1292.5 676V683M1292.5 690V700M1293.5 674V692M1294.5 674V682M1294.5 684V707M1295.5 676V686M1295.5 695V697M1295.5 703V722M1296.5 685V705M1296.5 711V712M1296.5 716V717M1296.5 719V725M1297.5 704V725M1298.5 707V725M1299.5 698V725M1300.5 693V713M1300.5 722V724M1301.5 691V695M1301.5 696V698M1301.5 703V723M1302.5 694V719M1303.5 698V724M1304.5 701V706M1304.5 709V710M1304.5 715V733M1305.5 705V747M1306.5 721V727M1306.5 728V735M1306.5 746V750M1307.5 724V730M1307.5 731V748M1308.5 727V732M1308.5 742V746M1308.5 747V752M1309.5 731V748M1310.5 729V747M1311.5 726V730M1311.5 732V750M1312.5 724V743M1312.5 749V751M1313.5 721V750M1314.5 721V744M1315.5 724V743M1316.5 721V743M1317.5 726V744M1318.5 724V729M1318.5 739V764M1319.5 728V751M1319.5 753V759M1320.5 722V746M1320.5 750V755M1321.5 705V733M1321.5 737V751M1322.5 696V716M1322.5 729V738M1323.5 695V697M1323.5 702V730M1324.5 696V716M1325.5 695V722M1326.5 694V720M1327.5 694V697M1327.5 711V714M1327.5 719V725M1328.5 696V725M1329.5 712V725M1330.5 709V725M1331.5 706V714M1331.5 721V725M1332.5 703V712M1332.5 713V722M1333.5 697V709M1333.5 710V717M1334.5 689V698M1334.5 700V701M1334.5 702V704M1334.5 705V711M1335.5 686V706M1336.5 689V700M1337.5 689V695M1337.5 696V705M1338.5 693V697M1338.5 698V707M1339.5 696V707M1340.5 696V707M1341.5 687V707M1342.5 683V688M1342.5 689V694M1342.5 696V700M1342.5 704V706M1343.5 686V705M1344.5 681V687M1344.5 688V695M1345.5 686V704M1346.5 688V693M1346.5 694V706M1347.5 692V709M1348.5 688V707M1349.5 675V695M1349.5 705V707M1350.5 666V707M1351.5 665V676M1351.5 680V695M1352.5 664V673M1352.5 675V681M1353.5 664V689M1354.5 666V667M1354.5 677V680M1354.5 687V692M1355.5 666V695M1356.5 670V684M1356.5 690V696M1357.5 668V671M1357.5 672V673M1357.5 683V692M1358.5 670V696M1359.5 682V686M1359.5 687V690M1359.5 695V699M1360.5 683V701M1361.5 691V701M1362.5 683V692M1362.5 695V701M1363.5 676V698M1364.5 676V688M1364.5 689V692M1365.5 676V683M1365.5 686V690M1366.5 674V687M1367.5 677V685M1368.5 673V682M1368.5 683V685M1369.5 673V685M1370.5 672V683M1371.5 671V681M1372.5 670V674M1372.5 675V679M1373.5 667V672M1373.5 673V679M1374.5 670V674M1374.5 678V679M1375.5 673V679" stroke="#000" stroke-width="1" fill="none" shape-rendering="crispEdges"/>
<path d="M0.5 432V436M0.5 437V439M2.5 431V432M3.5 428V430M5.5 421V424M9.5 413V420M11.5 407V409M14.5 402V410M20.5 413V414M20.5 420V422M21.5 408V412M22.5 395V396M22.5 402V404M26.5 394V395M33.5 426V427M35.5 429V431M36.5 426V427M37.5 421V422M38.5 419V420M40.5 410V422M41.5 403V405M45.5 402V406M52.5 443V447M61.5 461V463M62.5 445V460M65.5 434V443M66.5 429V433M67.5 420V426M68.5 415V418M71.5 415V417M72.5 394V395M72.5 400V405M74.5 391V393M75.5 363V374M75.5 379V381M76.5 355V362M77.5 352V354M81.5 345V349M87.5 350V354M89.5 330V335M91.5 331V332M92.5 328V330M99.5 324V327M101.5 321V322M103.5 306V321M104.5 283V287M104.5 292V305M108.5 271V282M109.5 239V257M109.5 262V270M110.5 232V235M113.5 203V204M113.5 211V215M114.5 155V189M114.5 194V200M121.5 194V196M121.5 200V213M122.5 166V182M122.5 189V193M124.5 175V181M125.5 161V166M126.5 136V141M126.5 150V157M127.5 109V130M128.5 101V108M129.5 97V100M130.5 75V79M131.5 67V74M137.5 220V239M138.5 191V193M138.5 206V219M139.5 163V167M139.5 169V190M140.5 155V157M141.5 136V154M147.5 119V122M148.5 66V94M148.5 97V102M148.5 113V116M150.5 38V55M155.5 106V113M155.5 122V134M156.5 91V97M166.5 166V169M167.5 160V165M168.5 144V156M180.5 352V384M180.5 386V391M181.5 333V342M182.5 331V332M186.5 318V328M186.5 335V343M187.5 295V317M189.5 290V296M193.5 322V330M194.5 320V321M195.5 318V319M197.5 300V307M197.5 311V317M200.5 281V294M201.5 269V272M204.5 281V284M205.5 279V280M206.5 258V268M206.5 269V274M206.5 277V278M216.5 324V333M216.5 335V338M218.5 315V325M218.5 327V332M219.5 310V311M219.5 312V314M220.5 299V309M221.5 249V266M222.5 242V248M223.5 214V215M223.5 225V230M226.5 213V222M227.5 198V208M234.5 226V231M235.5 222V225M236.5 190V191M236.5 196V219M237.5 185V189M239.5 159V169M239.5 173V182M241.5 164V167M244.5 185V186M247.5 169V177M247.5 179V184M251.5 180V181M258.5 224V232M265.5 266V269M268.5 268V269M269.5 250V258M270.5 238V246M272.5 227V244M273.5 221V224M274.5 209V212M276.5 205V206M278.5 212V218M282.5 217V233M282.5 236V237M285.5 209V214M287.5 262V263M291.5 323V329M296.5 367V370M297.5 361V364M300.5 340V344M301.5 334V339M305.5 340V341M308.5 360V372M312.5 399V416M313.5 379V384M313.5 385V398M315.5 347V359M315.5 364V380M319.5 335V345M322.5 328V333M325.5 327V328M325.5 329V331M326.5 315V316M326.5 317V324M327.5 301V304M327.5 306V311M328.5 299V300M330.5 299V301M331.5 296V297M335.5 288V289M335.5 290V291M335.5 292V297M337.5 285V286M339.5 284V285M343.5 273V275M343.5 277V279M345.5 270V271M347.5 244V259M347.5 264V269M348.5 226V236M348.5 238V243M349.5 222V225M350.5 218V221M351.5 208V213M354.5 204V209M356.5 201V210M358.5 185V191M358.5 195V204M363.5 216V220M365.5 215V216M366.5 198V214M374.5 230V233M378.5 215V219M380.5 213V214M382.5 197V199M382.5 205V206M383.5 195V196M384.5 191V194M385.5 182V183M385.5 189V190M386.5 169V170M386.5 172V181M387.5 159V160M387.5 166V168M389.5 173V174M391.5 168V170M398.5 259V263M399.5 230V247M399.5 252V258M406.5 275V277M407.5 250V253M408.5 230V242M408.5 246V249M417.5 293V297M417.5 299V304M418.5 291V292M420.5 293V294M423.5 294V297M428.5 297V303M429.5 284V291M432.5 275V293M434.5 266V274M437.5 288V289M438.5 285V287M440.5 283V288M446.5 323V324M447.5 312V322M448.5 308V311M452.5 281V283M452.5 291V298M454.5 284V285M454.5 289V290M455.5 279V283M461.5 292V297M461.5 299V301M465.5 298V300M471.5 302V309M472.5 300V301M474.5 293V294M475.5 290V292M477.5 292V295M478.5 287V289M479.5 279V280M479.5 281V282M497.5 380V383M503.5 378V402M506.5 347V364M506.5 365V387M510.5 389V395M515.5 383V404M521.5 397V398M525.5 362V369M525.5 371V383M526.5 355V361M527.5 331V350M528.5 322V328M530.5 308V313M535.5 361V368M537.5 358V361M538.5 335V357M541.5 332V341M543.5 323V324M543.5 329V331M546.5 324V325M556.5 376V381M559.5 370V377M565.5 369V377M566.5 355V368M567.5 350V354M568.5 341V349M571.5 335V344M581.5 378V380M584.5 372V373M585.5 358V359M585.5 365V371M589.5 360V362M595.5 372V373M597.5 366V367M598.5 362V363M599.5 352V355M599.5 358V361M601.5 338V344M602.5 334V337M603.5 319V322M603.5 325V329M614.5 352V353M615.5 344V348M616.5 337V341M618.5 331V333M620.5 332V335M621.5 330V331M630.5 340V341M631.5 333V335M632.5 331V332M633.5 328V330M635.5 325V327M636.5 311V319M636.5 322V324M637.5 305V308M639.5 292V303M640.5 281V283M642.5 276V280M644.5 271V276M648.5 280V281M650.5 286V287M653.5 267V284M653.5 287V290M653.5 292V294M654.5 252V253M654.5 256V266M658.5 253V260M660.5 254V256M661.5 246V249M661.5 252V253M662.5 235V245M669.5 215V218M670.5 178V187M670.5 191V199M670.5 202V214M672.5 175V176M677.5 179V180M677.5 181V183M678.5 177V178M680.5 173V175M688.5 187V191M692.5 179V186M693.5 165V170M697.5 164V167M698.5 159V163M699.5 150V153M708.5 180V184M714.5 204V205M715.5 202V203M725.5 232V236M729.5 237V238M730.5 232V234M733.5 234V237M737.5 236V239M742.5 247V255M745.5 241V244M746.5 231V235M748.5 220V222M760.5 229V230M763.5 226V228M764.5 221V222M766.5 217V223M767.5 212V215M769.5 203V204M769.5 210V211M781.5 242V243M784.5 248V249M787.5 245V253M788.5 242V243M789.5 237V241M790.5 235V236M792.5 232V235M798.5 250V251M806.5 296V298M811.5 291V300M813.5 285V290M817.5 268V269M817.5 270V277M824.5 301V308M825.5 285V288M825.5 290V300M830.5 281V282M830.5 287V290M830.5 291V298M831.5 276V280M832.5 274V275M839.5 262V263M841.5 262V264M842.5 253V257M842.5 260V261M851.5 268V270M855.5 276V287M858.5 275V276M858.5 279V287M859.5 271V274M864.5 277V281M865.5 273V275M867.5 265V270M876.5 300V301M890.5 379V382M891.5 361V373M891.5 374V378M892.5 352V357M893.5 342V345M894.5 328V339M896.5 343V344M904.5 371V372M909.5 374V375M910.5 372V373M912.5 367V368M914.5 358V362M914.5 363V364M916.5 357V358M919.5 359V361M921.5 342V343M921.5 351V353M922.5 340V341M926.5 332V336M938.5 349V350M940.5 353V356M949.5 379V381M950.5 374V378M951.5 369V371M954.5 377V387M961.5 599V611M963.5 580V604M964.5 577V579M965.5 567V569M966.5 559V564M968.5 538V542M968.5 546V550M969.5 535V537M970.5 527V528M973.5 522V525M974.5 483V496M974.5 505V521M975.5 480V482M976.5 461V477M983.5 485V490M984.5 474V482M985.5 461V467M988.5 476V478M991.5 480V484M1010.5 593V599M1011.5 584V592M1012.5 551V560M1012.5 562V581M1021.5 559V560M1022.5 545V549M1022.5 553V558M1023.5 539V543M1024.5 536V537M1028.5 541V544M1029.5 533V535M1032.5 528V534M1041.5 562V563M1041.5 568V571M1042.5 555V557M1047.5 563V564M1057.5 666V669M1065.5 717V743M1066.5 711V716M1067.5 698V702M1067.5 704V705M1068.5 693V697M1069.5 690V692M1075.5 727V728M1077.5 699V707M1077.5 712V723M1080.5 680V683M1081.5 660V671M1081.5 677V679M1082.5 656V659M1084.5 657V659M1088.5 661V664M1089.5 651V656M1093.5 647V653M1094.5 629V638M1095.5 615V618M1095.5 621V628M1104.5 616V617M1119.5 653V663M1120.5 651V652M1121.5 640V648M1122.5 635V636M1123.5 631V632M1124.5 616V630M1127.5 618V631M1129.5 617V621M1130.5 603V610M1130.5 615V616M1131.5 586V596M1132.5 578V581M1135.5 577V582M1140.5 565V577M1142.5 566V567M1143.5 562V565M1144.5 555V558M1145.5 553V554M1146.5 534V536M1146.5 540V545M1148.5 525V533M1149.5 523V524M1154.5 556V564M1155.5 552V553M1156.5 545V550M1160.5 561V562M1167.5 603V605M1170.5 612V617M1176.5 646V647M1177.5 611V623M1177.5 628V643M1178.5 573V596M1178.5 605V610M1185.5 626V627M1187.5 628V631M1189.5 615V622M1189.5 624V625M1190.5 610V613M1197.5 658V659M1198.5 651V655M1200.5 639V647M1203.5 637V639M1207.5 641V645M1217.5 670V676M1217.5 679V685M1218.5 640V650M1218.5 653V669M1220.5 630V639M1221.5 622V625M1223.5 616V619M1224.5 612V613M1225.5 605V610M1230.5 602V605M1231.5 597V598M1244.5 630V634M1245.5 623V626M1256.5 664V671M1256.5 672V673M1256.5 674V675M1261.5 666V668M1270.5 700V702M1283.5 721V722M1285.5 707V716M1287.5 709V714M1290.5 700V711M1291.5 692V699M1292.5 683V690M1300.5 713V722M1306.5 735V746M1308.5 746V747M1312.5 743V749M1319.5 751V753M1320.5 746V750M1321.5 733V737M1322.5 716V729M1331.5 714V721M1332.5 712V713M1333.5 709V710M1334.5 698V700M1334.5 701V702M1334.5 704V705M1342.5 694V696M1342.5 700V704M1349.5 695V705M1351.5 676V680M1352.5 673V675M1356.5 684V690M1362.5 692V695M1364.5 688V689M1365.5 683V686M1368.5 682V683M1372.5 674V675" stroke="#a6d6ae" stroke-width="1" fill="none" shape-rendering="crispEdges"/>
<path d="M17.5 394V397M17.5 399V408M19.5 410V412M28.5 389V391M29.5 392V395M29.5 397V401M30.5 404V405M32.5 416V417M43.5 399V400M46.5 388V390M47.5 395V406M47.5 408V415M49.5 416V424M51.5 425V428M51.5 430V431M51.5 433V442M56.5 427V430M57.5 431V435M58.5 436V441M59.5 442V446M59.5 448V450M64.5 430V432M67.5 402V404M70.5 403V405M71.5 406V407M73.5 378V379M74.5 382V383M77.5 343V344M84.5 337V339M85.5 347V348M85.5 351V352M91.5 322V323M95.5 319V322M107.5 244V260M112.5 194V199M117.5 147V169M117.5 173V177M118.5 178V181M118.5 183V187M123.5 127V150M123.5 153V165M132.5 34V39M133.5 42V44M133.5 55V80M134.5 81V128M135.5 129V133M135.5 151V170M151.5 22V23M152.5 24V38M153.5 39V42M153.5 58V75M154.5 76V90M158.5 65V85M158.5 88V89M160.5 89V92M164.5 111V133M164.5 134V148M168.5 117V128M168.5 132V134M171.5 117V119M173.5 120V146M175.5 147V159M176.5 184V214M177.5 215V240M177.5 242V273M177.5 277V303M178.5 304V318M178.5 322V323M182.5 307V310M183.5 311V316M184.5 317V347M188.5 274V289M191.5 278V287M192.5 298V300M195.5 307V309M204.5 264V271M208.5 251V275M211.5 276V280M212.5 282V301M214.5 301V303M214.5 305V337M217.5 308V311M230.5 188V191M231.5 219V228M231.5 234V235M242.5 140V156M244.5 157V162M244.5 167V170M250.5 151V160M251.5 161V166M254.5 164V168M254.5 180V194M256.5 198V207M257.5 208V216M259.5 209V210M259.5 218V219M260.5 231V235M261.5 236V240M261.5 257V259M266.5 255V258M277.5 195V196M279.5 197V198M280.5 202V211M286.5 197V201M286.5 205V206M287.5 207V211M287.5 219V223M288.5 224V225M289.5 226V263M290.5 269V282M290.5 286V309M292.5 301V308M293.5 309V317M294.5 336V358M298.5 325V335M302.5 312V313M303.5 322V333M305.5 317V322M306.5 323V324M309.5 334V354M310.5 358V361M310.5 366V390M317.5 333V337M329.5 295V296M332.5 287V289M336.5 279V282M353.5 210V211M360.5 182V188M361.5 196V199M362.5 201V205M364.5 208V211M368.5 194V196M369.5 199V200M369.5 205V208M371.5 215V219M371.5 227V229M380.5 200V206M394.5 156V159M395.5 160V162M395.5 168V174M396.5 209V227M396.5 232V245M400.5 216V222M401.5 226V239M402.5 256V264M402.5 268V269M405.5 240V249M410.5 233V239M412.5 250V254M413.5 255V266M414.5 276V277M415.5 289V291M422.5 280V282M424.5 286V290M425.5 292V294M430.5 275V278M435.5 256V261M435.5 264V265M436.5 266V272M436.5 274V276M436.5 278V283M439.5 264V279M441.5 277V278M442.5 268V273M443.5 291V301M444.5 311V322M456.5 268V270M456.5 273V274M458.5 274V279M459.5 280V282M459.5 286V289M463.5 292V293M467.5 297V300M469.5 305V306M476.5 284V289M481.5 279V286M484.5 282V284M485.5 287V291M486.5 292V294M487.5 295V301M489.5 306V312M491.5 313V323M494.5 331V348M496.5 346V365M499.5 362V381M499.5 384V387M500.5 388V394M500.5 402V407M507.5 344V345M508.5 348V351M511.5 357V382M516.5 360V362M519.5 369V388M532.5 304V323M533.5 324V334M533.5 348V349M534.5 350V351M539.5 322V324M539.5 327V329M547.5 311V313M548.5 314V325M549.5 326V327M550.5 336V337M552.5 344V346M553.5 347V351M554.5 352V364M557.5 362V363M557.5 368V373M560.5 361V362M561.5 363V374M567.5 333V336M572.5 319V328M574.5 338V339M575.5 342V355M577.5 353V356M578.5 357V360M580.5 362V363M580.5 367V372M590.5 352V357M593.5 361V363M593.5 364V367M605.5 314V322M606.5 323V324M610.5 332V333M611.5 334V344M611.5 345V346M612.5 347V349M617.5 329V330M619.5 326V330M622.5 320V322M623.5 324V325M625.5 329V330M627.5 334V336M646.5 265V268M647.5 269V270M648.5 271V272M649.5 274V278M650.5 279V280M651.5 281V282M655.5 248V249M656.5 250V252M659.5 246V249M665.5 210V211M668.5 207V208M674.5 168V177M676.5 175V177M683.5 160V166M683.5 169V174M685.5 173V187M690.5 172V177M696.5 155V159M702.5 149V150M703.5 151V161M704.5 164V166M704.5 168V170M705.5 171V174M706.5 175V181M707.5 185V186M710.5 170V172M711.5 174V179M711.5 181V182M713.5 183V184M713.5 187V194M716.5 194V195M717.5 196V197M717.5 210V211M718.5 198V200M720.5 203V206M721.5 216V219M723.5 218V222M728.5 232V234M731.5 227V229M735.5 226V232M735.5 234V236M736.5 240V241M737.5 226V227M738.5 228V229M741.5 226V236M741.5 239V246M745.5 236V237M752.5 207V212M756.5 212V217M756.5 227V228M757.5 218V221M759.5 221V225M765.5 206V214M771.5 193V198M774.5 200V201M774.5 204V205M775.5 206V211M776.5 213V221M779.5 217V224M779.5 227V231M783.5 232V239M785.5 235V239M790.5 224V226M792.5 230V231M796.5 230V235M796.5 240V242M800.5 240V245M801.5 259V260M803.5 256V263M803.5 266V270M804.5 271V282M805.5 289V291M809.5 293V297M820.5 254V256M821.5 257V264M821.5 271V281M823.5 282V295M826.5 278V280M829.5 275V280M832.5 265V267M834.5 268V269M838.5 260V261M840.5 252V255M848.5 249V250M849.5 251V259M854.5 268V269M854.5 271V272M856.5 272V275M860.5 261V262M861.5 264V269M863.5 268V270M864.5 271V272M869.5 260V264M871.5 265V269M872.5 278V281M873.5 282V284M874.5 285V287M875.5 288V290M877.5 291V297M881.5 294V308M881.5 309V311M881.5 314V320M884.5 315V330M886.5 331V336M886.5 344V345M887.5 347V361M888.5 362V363M888.5 367V370M896.5 324V336M898.5 337V342M900.5 346V347M900.5 350V357M902.5 355V360M903.5 361V365M903.5 369V370M918.5 347V352M923.5 332V339M928.5 327V331M933.5 337V341M939.5 340V343M941.5 344V345M942.5 346V350M943.5 354V358M943.5 360V375M945.5 376V382M950.5 354V360M953.5 353V367M956.5 357V365M958.5 373V392M958.5 399V416M959.5 457V479M959.5 487V523M959.5 533V579M960.5 580V587M978.5 457V458M981.5 472V477M987.5 457V461M994.5 471V475M994.5 476V485M999.5 506V514M1000.5 515V516M1002.5 508V517M1004.5 518V533M1005.5 539V540M1005.5 545V548M1006.5 549V550M1006.5 552V571M1013.5 541V544M1015.5 537V540M1016.5 541V543M1018.5 551V553M1020.5 552V554M1025.5 528V535M1030.5 522V532M1035.5 527V533M1035.5 535V540M1038.5 557V559M1039.5 564V567M1045.5 549V552M1046.5 555V560M1049.5 554V557M1049.5 562V563M1050.5 564V571M1051.5 575V592M1052.5 593V603M1052.5 605V611M1053.5 612V624M1053.5 628V633M1054.5 634V648M1055.5 649V650M1056.5 651V652M1059.5 650V651M1060.5 662V668M1061.5 676V686M1062.5 687V690M1062.5 703V704M1063.5 705V723M1063.5 736V743M1070.5 684V686M1071.5 687V689M1072.5 690V695M1073.5 701V723M1079.5 677V678M1086.5 648V649M1090.5 637V645M1098.5 594V596M1099.5 598V600M1100.5 604V610M1101.5 611V612M1101.5 616V617M1105.5 607V608M1107.5 616V619M1111.5 619V621M1111.5 624V632M1112.5 633V638M1112.5 639V640M1115.5 624V637M1115.5 641V645M1115.5 647V650M1128.5 604V607M1128.5 613V616M1137.5 572V574M1150.5 510V512M1150.5 516V522M1152.5 525V536M1153.5 537V551M1157.5 529V543M1160.5 539V545M1161.5 548V553M1164.5 551V554M1165.5 559V563M1165.5 565V568M1165.5 573V578M1166.5 579V581M1168.5 590V593M1169.5 594V596M1171.5 596V608M1172.5 609V616M1174.5 625V628M1174.5 633V634M1180.5 574V587M1182.5 588V589M1183.5 596V606M1184.5 607V614M1184.5 618V619M1192.5 597V598M1193.5 600V608M1194.5 609V614M1196.5 627V632M1196.5 634V652M1204.5 614V623M1206.5 625V640M1209.5 639V650M1212.5 655V661M1214.5 658V674M1233.5 582V583M1234.5 584V587M1238.5 606V608M1239.5 612V613M1241.5 610V618M1242.5 619V621M1243.5 625V629M1248.5 617V619M1249.5 627V640M1250.5 645V651M1252.5 667V670M1260.5 650V657M1264.5 658V664M1265.5 666V672M1265.5 676V677M1265.5 680V681M1266.5 682V686M1269.5 686V697M1271.5 694V695M1276.5 692V696M1277.5 697V702M1278.5 703V706M1282.5 711V714M1288.5 690V697M1294.5 682V684M1295.5 686V695M1295.5 697V703M1296.5 705V711M1296.5 712V716M1296.5 717V719M1301.5 695V696M1301.5 698V703M1304.5 706V709M1304.5 710V715M1306.5 727V728M1307.5 730V731M1308.5 732V742M1311.5 730V732M1318.5 729V739M1323.5 697V702M1327.5 697V711M1327.5 714V719M1337.5 695V696M1338.5 697V698M1342.5 688V689M1344.5 687V688M1346.5 693V694M1354.5 667V677M1354.5 680V687M1357.5 671V672M1357.5 673V683M1359.5 686V687M1359.5 690V695M1373.5 672V673M1374.5 674V678" stroke="#961a20" stroke-width="1" fill="none" shape-rendering="crispEdges"/>
<rect x="1" y="265" width="1838" height="1" fill="#000" />
<rect x="1" y="358" width="1838" height="1" fill="#000" />
<rect x="1" y="403" width="1838" height="1" fill="#000" />
<rect x="1" y="508" width="1838" height="2" fill="#006400" />
<rect x="1" y="519" width="1838" height="1" fill="#000" />
<rect x="1" y="534" width="1838" height="1" fill="#000" />
<rect x="1" y="592" width="1838" height="2" fill="#f5c211" />
<rect x="1" y="643" width="1838" height="2" fill="#e17a3a" />
<rect x="1" y="671" width="1838" height="1" fill="#000" />
<rect x="1" y="674" width="1838" height="1" fill="#000" />
<rect x="1" y="686" width="1838" height="2" fill="#f000f0" />
<rect x="1" y="714" width="1838" height="2" fill="#0000e6" />
<rect x="1" y="729" width="1838" height="1" fill="#000" />
<rect x="1" y="760" width="1838" height="3" fill="#e00000" />
<path d="M1 668H1839" stroke="#a8142a" stroke-width="2" stroke-dasharray="2 2" fill="none" shape-rendering="crispEdges"/>
<line x1="151.7" y1="23.3" x2="1642" y2="361" stroke="#000" stroke-width="1.6" />
<line x1="0" y1="371.7" x2="1803" y2="764.2" stroke="#000" stroke-width="1.6" />
<line x1="668.7" y1="126" x2="1440" y2="635" stroke="#0f7a12" stroke-width="1.9" />
<line x1="1148.7" y1="509.3" x2="1387.2" y2="708" stroke="#0000e6" stroke-width="1.8" />
<line x1="1131" y1="596.7" x2="1351" y2="794" stroke="#0000e6" stroke-width="1.8" />
<line x1="1233.7" y1="572.5" x2="1301" y2="763.1" stroke="#f01010" stroke-width="1.6" />
<line x1="1226" y1="594.5" x2="1290.3" y2="769.6" stroke="#f01010" stroke-width="1.6" />
<line x1="1306.7" y1="736.6" x2="1337.3" y2="665.8" stroke="#000" stroke-width="1.6" />
<line x1="1318.75" y1="763.1" x2="1351" y2="675" stroke="#000" stroke-width="1.6" />
<line x1="1273.7" y1="685" x2="1335.7" y2="751" stroke="#000" stroke-width="1.4" />
<line x1="1273.7" y1="685" x2="1344.5" y2="717.3" stroke="#000" stroke-width="1.4" />
<line x1="1324.4" y1="694.7" x2="1368.7" y2="661.7" stroke="#0a7a0a" stroke-width="2" />
<line x1="1323.6" y1="731" x2="1386.4" y2="683.1" stroke="#0a7a0a" stroke-width="2" />
<line x1="1053" y1="632" x2="1062" y2="655" stroke="#000" stroke-width="0.8" />
<line x1="1068" y1="675" x2="1086" y2="688" stroke="#000" stroke-width="0.8" />
<line x1="1099" y1="597" x2="1113" y2="620" stroke="#000" stroke-width="0.8" />
<circle cx="1376.4" cy="669.2" r="21.6" fill="none" stroke="#e8102a" stroke-width="1.5"/>
<circle cx="1065.7" cy="738.3" r="3.6" fill="none" stroke="#1a8a2a" stroke-width="1.5"/>
<path d="M0 0.5H1896M0.5 0V870M1895.5 0V870M0 869.5H1896M1839.5 0V870M0 840.5H1896M0 855.5H1839M59.5 840V856M145.5 840V856M230.5 840V856M314.5 840V856M396.5 840V856M479.5 840V856M566.5 840V856M654.5 840V856M738.5 840V856M819.5 840V856M900.5 840V856M982.5 840V856M1066.5 840V856M1153.5 840V856M1239.5 840V856M1320.5 840V856M1401.5 840V856M1482.5 840V856M1563.5 840V856M1644.5 840V856M1725.5 840V856M1806.5 840V856M314.5 855V870M819.5 855V870M1320.5 855V870M1840 4.5H1842M1840 14.5H1842M1840 24.5H1842M1840 34.5H1842M1840 44.5H1845M1840 54.5H1842M1840 64.5H1842M1840 74.5H1842M1840 84.5H1842M1840 94.5H1842M1840 104.5H1842M1840 114.5H1842M1840 124.5H1842M1840 134.5H1842M1840 143.5H1845M1840 153.5H1842M1840 163.5H1842M1840 173.5H1842M1840 183.5H1842M1840 193.5H1842M1840 203.5H1842M1840 213.5H1842M1840 223.5H1842M1840 233.5H1842M1840 243.5H1845M1840 253.5H1842M1840 263.5H1842M1840 273.5H1842M1840 283.5H1842M1840 293.5H1842M1840 303.5H1842M1840 313.5H1842M1840 323.5H1842M1840 333.5H1842M1840 343.5H1845M1840 353.5H1842M1840 363.5H1842M1840 373.5H1842M1840 383.5H1842M1840 393.5H1842M1840 403.5H1842M1840 413.5H1842M1840 423.5H1842M1840 433.5H1842M1840 443.5H1845M1840 452.5H1842M1840 462.5H1842M1840 472.5H1842M1840 482.5H1842M1840 492.5H1842M1840 502.5H1842M1840 512.5H1842M1840 522.5H1842M1840 532.5H1842M1840 542.5H1845M1840 552.5H1842M1840 562.5H1842M1840 572.5H1842M1840 582.5H1842M1840 592.5H1842M1840 602.5H1842M1840 612.5H1842M1840 622.5H1842M1840 632.5H1842M1840 642.5H1845M1840 652.5H1842M1840 662.5H1842M1840 672.5H1842M1840 682.5H1842M1840 692.5H1842M1840 702.5H1842M1840 712.5H1842M1840 722.5H1842M1840 732.5H1842M1840 742.5H1845M1840 752.5H1842M1840 761.5H1842M1840 771.5H1842M1840 781.5H1842M1840 791.5H1842M1840 801.5H1842M1840 811.5H1842M1840 821.5H1842M1840 831.5H1842" stroke="#000" stroke-width="1" fill="none" shape-rendering="crispEdges"/>
<text x="1848" y="48.9" font-size="10.8" fill="#111" font-family="Liberation Sans, sans-serif">1.900,00</text>
<text x="1848" y="148.6" font-size="10.8" fill="#111" font-family="Liberation Sans, sans-serif">1.800,00</text>
<text x="1848" y="248.3" font-size="10.8" fill="#111" font-family="Liberation Sans, sans-serif">1.700,00</text>
<text x="1848" y="347.9" font-size="10.8" fill="#111" font-family="Liberation Sans, sans-serif">1.600,00</text>
<text x="1848" y="447.6" font-size="10.8" fill="#111" font-family="Liberation Sans, sans-serif">1.500,00</text>
<text x="1848" y="547.3" font-size="10.8" fill="#111" font-family="Liberation Sans, sans-serif">1.400,00</text>
<text x="1848" y="647.0" font-size="10.8" fill="#111" font-family="Liberation Sans, sans-serif">1.300,00</text>
<text x="1848" y="746.7" font-size="10.8" fill="#111" font-family="Liberation Sans, sans-serif">1.200,00</text>
<rect x="1839.5" y="659.5" width="50" height="17" fill="#fff" stroke="#000" stroke-width="1" shape-rendering="crispEdges"/>
<rect x="1839.5" y="256.5" width="50" height="17" fill="#fdf2e2" stroke="#b22222" stroke-width="1" shape-rendering="crispEdges"/>
<text x="1843.4" y="268.7" font-size="10.8" fill="#c02626" font-family="Liberation Sans, sans-serif">1.678,98</text>
<rect x="1839.5" y="350.5" width="50" height="17" fill="#fdf2e2" stroke="#b22222" stroke-width="1" shape-rendering="crispEdges"/>
<text x="1843.4" y="362.7" font-size="10.8" fill="#c02626" font-family="Liberation Sans, sans-serif">1.584,78</text>
<rect x="1839.5" y="394.5" width="50" height="17" fill="#fdf2e2" stroke="#b22222" stroke-width="1" shape-rendering="crispEdges"/>
<text x="1843.4" y="406.7" font-size="10.8" fill="#c02626" font-family="Liberation Sans, sans-serif">1.540,01</text>
<rect x="1839.5" y="500.5" width="50" height="17" fill="#fdf2e2" stroke="#b22222" stroke-width="1" shape-rendering="crispEdges"/>
<text x="1843.4" y="512.7" font-size="10.8" fill="#c02626" font-family="Liberation Sans, sans-serif">1.433,66</text>
<rect x="1839.5" y="510.5" width="50" height="17" fill="#fdf2e2" stroke="#b22222" stroke-width="1" shape-rendering="crispEdges"/>
<text x="1843.4" y="522.7" font-size="10.8" fill="#c02626" font-family="Liberation Sans, sans-serif">1.423,85</text>
<rect x="1839.5" y="525.5" width="50" height="17" fill="#fdf2e2" stroke="#b22222" stroke-width="1" shape-rendering="crispEdges"/>
<text x="1843.4" y="537.7" font-size="10.8" fill="#c02626" font-family="Liberation Sans, sans-serif">1.408,54</text>
<rect x="1839.5" y="584.5" width="50" height="17" fill="#fdf2e2" stroke="#b22222" stroke-width="1" shape-rendering="crispEdges"/>
<text x="1843.4" y="596.7" font-size="10.8" fill="#c02626" font-family="Liberation Sans, sans-serif">1.350,13</text>
<rect x="1839.5" y="635.5" width="50" height="17" fill="#fdf2e2" stroke="#b22222" stroke-width="1" shape-rendering="crispEdges"/>
<text x="1843.4" y="647.7" font-size="10.8" fill="#c02626" font-family="Liberation Sans, sans-serif">1.298,58</text>
<rect x="1839.5" y="662.5" width="50" height="17" fill="#fdf2e2" stroke="#b22222" stroke-width="1" shape-rendering="crispEdges"/>
<text x="1843.4" y="674.7" font-size="10.8" fill="#c02626" font-family="Liberation Sans, sans-serif">1.271,33</text>
<rect x="1839.5" y="679.5" width="50" height="17" fill="#fdf2e2" stroke="#b22222" stroke-width="1" shape-rendering="crispEdges"/>
<text x="1843.4" y="691.7" font-size="10.8" fill="#c02626" font-family="Liberation Sans, sans-serif">1.254,97</text>
<rect x="1839.5" y="706.5" width="50" height="17" fill="#fdf2e2" stroke="#b22222" stroke-width="1" shape-rendering="crispEdges"/>
<text x="1843.4" y="718.7" font-size="10.8" fill="#c02626" font-family="Liberation Sans, sans-serif">1.226,98</text>
<rect x="1839.5" y="720.5" width="50" height="17" fill="#fdf2e2" stroke="#b22222" stroke-width="1" shape-rendering="crispEdges"/>
<text x="1843.4" y="732.7" font-size="10.8" fill="#c02626" font-family="Liberation Sans, sans-serif">1.212,61</text>
<rect x="1839.5" y="752.5" width="50" height="17" fill="#fdf2e2" stroke="#b22222" stroke-width="1" shape-rendering="crispEdges"/>
<text x="1843.4" y="764.7" font-size="10.8" fill="#c02626" font-family="Liberation Sans, sans-serif">1.181,02</text>
<text x="29.5" y="852.3" font-size="11" fill="#111" text-anchor="middle" font-family="Liberation Sans, sans-serif">Mai</text>
<text x="102.0" y="852.3" font-size="11" fill="#111" text-anchor="middle" font-family="Liberation Sans, sans-serif">Jul</text>
<text x="187.5" y="852.3" font-size="11" fill="#111" text-anchor="middle" font-family="Liberation Sans, sans-serif">Sep</text>
<text x="272.0" y="852.3" font-size="11" fill="#111" text-anchor="middle" font-family="Liberation Sans, sans-serif">Nov</text>
<text x="355.0" y="852.3" font-size="11" fill="#111" text-anchor="middle" font-family="Liberation Sans, sans-serif">Jan</text>
<text x="437.5" y="852.3" font-size="11" fill="#111" text-anchor="middle" font-family="Liberation Sans, sans-serif">Mrz</text>
<text x="522.5" y="852.3" font-size="11" fill="#111" text-anchor="middle" font-family="Liberation Sans, sans-serif">Mai</text>
<text x="610.0" y="852.3" font-size="11" fill="#111" text-anchor="middle" font-family="Liberation Sans, sans-serif">Jul</text>
<text x="696.0" y="852.3" font-size="11" fill="#111" text-anchor="middle" font-family="Liberation Sans, sans-serif">Sep</text>
<text x="778.5" y="852.3" font-size="11" fill="#111" text-anchor="middle" font-family="Liberation Sans, sans-serif">Nov</text>
<text x="859.5" y="852.3" font-size="11" fill="#111" text-anchor="middle" font-family="Liberation Sans, sans-serif">Jan</text>
<text x="941.0" y="852.3" font-size="11" fill="#111" text-anchor="middle" font-family="Liberation Sans, sans-serif">Mrz</text>
<text x="1024.0" y="852.3" font-size="11" fill="#111" text-anchor="middle" font-family="Liberation Sans, sans-serif">Mai</text>
<text x="1109.5" y="852.3" font-size="11" fill="#111" text-anchor="middle" font-family="Liberation Sans, sans-serif">Jul</text>
<text x="1196.0" y="852.3" font-size="11" fill="#111" text-anchor="middle" font-family="Liberation Sans, sans-serif">Sep</text>
<text x="1279.5" y="852.3" font-size="11" fill="#111" text-anchor="middle" font-family="Liberation Sans, sans-serif">Nov</text>
<text x="1324.5" y="852.3" font-size="11" fill="#111" font-family="Liberation Sans, sans-serif">Jan</text>
<text x="156.8" y="867" font-size="11" fill="#111" text-anchor="middle" font-family="Liberation Sans, sans-serif">2011</text>
<text x="566.3" y="867" font-size="11" fill="#111" text-anchor="middle" font-family="Liberation Sans, sans-serif">2012</text>
<text x="1069.3" y="867" font-size="11" fill="#111" text-anchor="middle" font-family="Liberation Sans, sans-serif">2013</text>
<text x="1579.5" y="867" font-size="11" fill="#111" text-anchor="middle" font-family="Liberation Sans, sans-serif">2014</text>
<g transform="translate(26,3)"><rect width="16" height="16" fill="#2c9b4b"/><rect x="0.5" y="0.5" width="15" height="15" fill="none" stroke="#23843e" stroke-width="1"/><path d="M0.8 11L10.3 0.8L15.3 3.4L6.6 13.6Z" fill="#f4b54a"/><path d="M0.8 11L10.3 0.8L12 1.7L2.6 11.9Z" fill="#fbe6ac"/><path d="M0.8 11L6.6 13.6L6.2 15.2L0.6 12.6Z" fill="#e79a35"/><path d="M6.6 13.6L15.3 3.4L15 5L6.2 15.2Z" fill="#d98a2c"/></g>
<text x="42.4" y="13.6" font-size="11.1" fill="#111" font-family="Liberation Sans, sans-serif">XAUUSD 1 Stunde</text>
<path d="M137.5 8H143.5L140.5 11.3Z" fill="#000"/>
<rect x="7.5" y="704.5" width="111" height="92" fill="#fff" stroke="#000" stroke-width="1" shape-rendering="crispEdges"/>
<rect x="8.0" y="705.0" width="110" height="18.2" fill="#f1f1f1"/>
<text x="15" y="717.9" font-size="11" fill="#111" font-family="Liberation Sans, sans-serif">10-Feb-14, 14:00</text>
<text x="15" y="736.1" font-size="11" fill="#111" font-family="Liberation Sans, sans-serif">Hoch</text>
<text x="67.8" y="736.1" font-size="10.8" fill="#111" font-family="Liberation Sans, sans-serif">1.275,06</text>
<rect x="8.0" y="741.4" width="110" height="18.2" fill="#f1f1f1"/>
<text x="15" y="754.3" font-size="11" fill="#111" font-family="Liberation Sans, sans-serif">Tief</text>
<text x="67.8" y="754.3" font-size="10.8" fill="#111" font-family="Liberation Sans, sans-serif">1.273,82</text>
<text x="15" y="772.5" font-size="11" fill="#111" font-family="Liberation Sans, sans-serif">Offen</text>
<text x="67.8" y="772.5" font-size="10.8" fill="#111" font-family="Liberation Sans, sans-serif">1.274,37</text>
<rect x="8.0" y="777.8" width="110" height="18.2" fill="#f1f1f1"/>
<text x="15" y="790.7" font-size="11" fill="#111" font-family="Liberation Sans, sans-serif">Zuletzt</text>
<text x="67.8" y="790.7" font-size="10.8" fill="#111" font-family="Liberation Sans, sans-serif">1.274,77</text>
</svg>
</body></html>
